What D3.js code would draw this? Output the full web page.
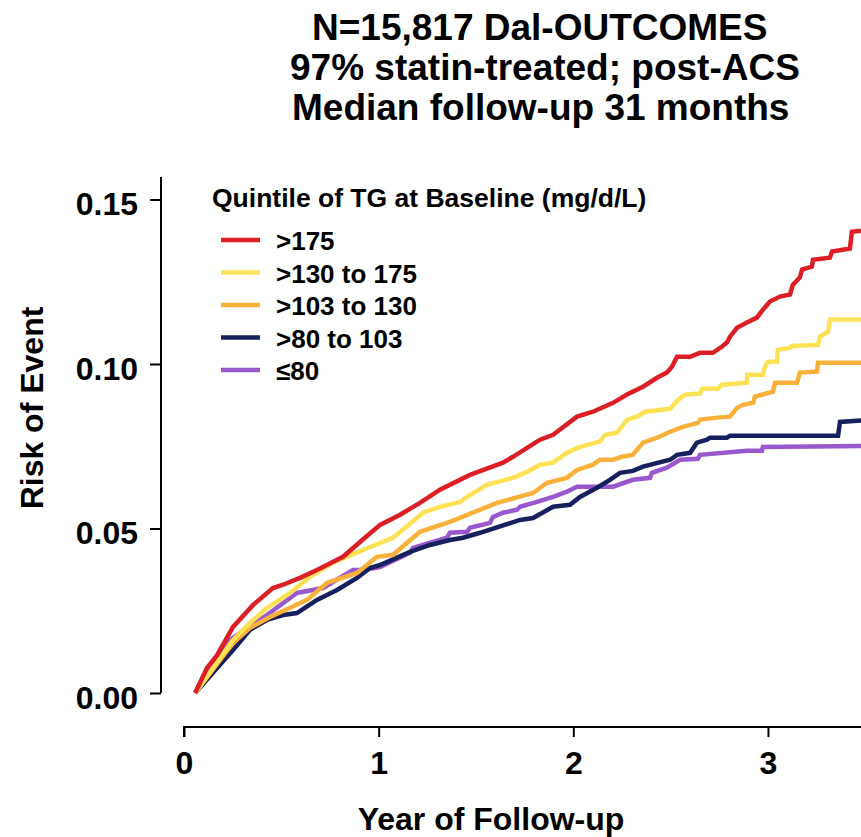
<!DOCTYPE html>
<html>
<head>
<meta charset="utf-8">
<script src="https://cdn.jsdelivr.net/npm/d3@7"></script>
<style>
  html, body { margin: 0; padding: 0; background: #fff; }
  svg { display: block; font-family: "Liberation Sans", Arial, Helvetica, sans-serif; font-weight: bold; }
</style>
</head>
<body>
<svg id="chart" width="861" height="837"></svg>
<script>
// Title lines
const titleLines = ["N=15,817 Dal-OUTCOMES", "97% statin-treated; post-ACS", "Median follow-up 31 months"];

// Legend
const legendTitle = "Quintile of TG at Baseline (mg/d/L)";
const groupLabels = [">175", ">130 to 175", ">103 to 130", ">80 to 103", "\u226480"];
const groupColors = ["#dc1f26", "#fde255", "#f9b13b", "#16205e", "#9a58cf"];

// Axis ticks
const xTicks = [0, 1, 2, 3];
const yTicks = [0, 0.05, 0.10, 0.15];

// Cumulative risk curves: [year, risk]
const riskOver175 = [
  [0.057, 0], [0.118, 0.0076], [0.170, 0.0115], [0.252, 0.0201], [0.354, 0.0267], [0.457, 0.0319], [0.509, 0.0329],
  [0.596, 0.035], [0.683, 0.0374], [0.817, 0.0414], [0.904, 0.0459], [1.007, 0.0511], [1.110, 0.0542],
  [1.212, 0.0578], [1.315, 0.0618], [1.469, 0.0663], [1.639, 0.070], [1.690, 0.0718], [1.829, 0.077],
  [1.896, 0.0785], [2.019, 0.084], [2.101, 0.0855], [2.204, 0.0882], [2.276, 0.0907], [2.358, 0.0931],
  [2.430, 0.0958], [2.481, 0.0974], [2.507, 0.0992], [2.533, 0.1022], [2.600, 0.1022], [2.651, 0.1034],
  [2.717, 0.1034], [2.764, 0.1053], [2.789, 0.1065], [2.805, 0.1083], [2.841, 0.111], [2.892, 0.1126],
  [2.943, 0.1141], [2.974, 0.1165], [3.010, 0.119], [3.062, 0.1205], [3.113, 0.1211], [3.128, 0.1241],
  [3.164, 0.1263], [3.175, 0.1287], [3.226, 0.1296], [3.231, 0.1317], [3.318, 0.1323], [3.329, 0.1342],
  [3.421, 0.1351], [3.431, 0.1402], [3.478, 0.1405]
];
const risk130to175 = [
  [0.057, 0], [0.252, 0.0161], [0.339, 0.0213], [0.426, 0.0258], [0.545, 0.0304], [0.647, 0.0353],
  [0.765, 0.0396], [0.920, 0.0435], [1.007, 0.0456], [1.074, 0.0472], [1.228, 0.0548], [1.315, 0.0566],
  [1.418, 0.0581], [1.454, 0.0596], [1.556, 0.0633], [1.690, 0.0654], [1.762, 0.0672], [1.829, 0.0694],
  [1.896, 0.070], [1.967, 0.073], [2.034, 0.0748], [2.137, 0.0764], [2.163, 0.0785], [2.224, 0.0791],
  [2.276, 0.0831], [2.327, 0.084], [2.368, 0.0855], [2.497, 0.0864], [2.538, 0.0891], [2.574, 0.0907],
  [2.651, 0.091], [2.661, 0.0925], [2.743, 0.0925], [2.764, 0.0937], [2.892, 0.0943], [2.894, 0.0967],
  [2.974, 0.0967], [2.985, 0.0992], [3.000, 0.1007], [3.046, 0.1007], [3.051, 0.1043], [3.113, 0.1049],
  [3.123, 0.1055], [3.257, 0.1058], [3.267, 0.1083], [3.308, 0.1098], [3.318, 0.1135], [3.478, 0.1135]
];
const risk103to130 = [
  [0.057, 0], [0.252, 0.0152], [0.339, 0.0198], [0.442, 0.0231], [0.545, 0.0259], [0.632, 0.0283],
  [0.735, 0.0335], [0.889, 0.0365], [0.991, 0.0414], [1.074, 0.042], [1.212, 0.049], [1.366, 0.052],
  [1.608, 0.0578], [1.793, 0.0608], [1.865, 0.0639], [1.967, 0.0654], [2.019, 0.0678], [2.101, 0.0694],
  [2.137, 0.0709], [2.204, 0.0709], [2.250, 0.0718], [2.306, 0.0724], [2.358, 0.0761], [2.430, 0.0776],
  [2.497, 0.0794], [2.563, 0.0809], [2.640, 0.0821], [2.651, 0.0831], [2.738, 0.0837], [2.805, 0.084],
  [2.841, 0.0867], [2.872, 0.0876], [2.923, 0.0882], [2.933, 0.0901], [3.026, 0.0916], [3.036, 0.0943],
  [3.149, 0.0943], [3.164, 0.0974], [3.252, 0.0977], [3.257, 0.1004], [3.478, 0.1004]
];
const risk80to103 = [
  [0.057, 0], [0.252, 0.0131], [0.339, 0.0192], [0.426, 0.0222], [0.509, 0.0237], [0.580, 0.0243],
  [0.683, 0.0283], [0.786, 0.0313], [0.889, 0.035], [0.955, 0.038], [1.007, 0.0389], [1.161, 0.0429],
  [1.264, 0.045], [1.366, 0.0465], [1.433, 0.0472], [1.521, 0.0487], [1.726, 0.0526], [1.793, 0.0532],
  [1.896, 0.0566], [1.983, 0.0572], [2.034, 0.0596], [2.122, 0.0624], [2.188, 0.0648], [2.240, 0.0669],
  [2.306, 0.0675], [2.358, 0.0688], [2.497, 0.0709], [2.533, 0.0724], [2.600, 0.073], [2.635, 0.0761],
  [2.687, 0.077], [2.702, 0.0776], [2.789, 0.0776], [2.805, 0.0782], [3.360, 0.0782], [3.370, 0.0824],
  [3.478, 0.0828]
];
const riskUpTo80 = [
  [0.057, 0], [0.236, 0.0161], [0.288, 0.0183], [0.339, 0.0201], [0.426, 0.0237], [0.580, 0.0304],
  [0.714, 0.0319], [0.868, 0.0374], [0.920, 0.0374], [1.007, 0.0383], [1.161, 0.0426], [1.176, 0.0441],
  [1.351, 0.0472], [1.366, 0.0487], [1.454, 0.049], [1.469, 0.0502], [1.572, 0.0517], [1.587, 0.0535],
  [1.639, 0.0548], [1.711, 0.0557], [1.726, 0.0566], [1.813, 0.0581], [1.896, 0.0596], [1.967, 0.0612],
  [2.019, 0.0627], [2.204, 0.0627], [2.306, 0.0648], [2.394, 0.0654], [2.404, 0.0669], [2.481, 0.0685],
  [2.548, 0.0709], [2.640, 0.0712], [2.651, 0.0724], [2.892, 0.0736], [2.969, 0.0736], [2.974, 0.0748],
  [3.478, 0.0751]
];

// Drawing order: lowest group first so the top quintile sits on top
const seriesList = [
  { data: riskUpTo80, color: groupColors[4] },
  { data: risk80to103, color: groupColors[3] },
  { data: risk103to130, color: groupColors[2] },
  { data: risk130to175, color: groupColors[1] },
  { data: riskOver175, color: groupColors[0] }
];

const svg = d3.select("#chart");

const x = d3.scaleLinear().domain([0, 3.5]).range([184, 865.3]);
const y = d3.scaleLinear().domain([0, 0.15]).range([693, 199.5]);

// Title
svg.append("g").selectAll("text")
  .data(titleLines)
  .join("text")
  .attr("x", (d, i) => [312, 290, 292][i])
  .attr("y", (d, i) => 40 + i * 40)
  .attr("text-anchor", "start")
  .attr("font-size", 37)
  .attr("fill", "#000")
  .text(d => d);

// Y axis
const yAxis = d3.axisLeft(y)
  .tickValues(yTicks)
  .tickFormat(d3.format(".2f"))
  .tickSize(11)
  .tickPadding(12)
  .tickSizeOuter(0);
const yg = svg.append("g")
  .attr("transform", "translate(161,0)")
  .call(yAxis);
yg.select(".domain").remove();
yg.append("line")
  .attr("x1", 0).attr("x2", 0)
  .attr("y1", 177).attr("y2", y(0))
  .attr("stroke", "#000").attr("stroke-width", 2);
yg.selectAll(".tick line").attr("stroke", "#000").attr("stroke-width", 2);
yg.selectAll(".tick text")
  .attr("font-size", 32).attr("font-family", "Liberation Sans, Arial, sans-serif")
  .attr("font-weight", "bold").attr("fill", "#000").attr("dy", "0.47em");

// X axis
const xAxis = d3.axisBottom(x)
  .tickValues(xTicks)
  .tickFormat(d3.format("d"))
  .tickSize(10)
  .tickPadding(14)
  .tickSizeOuter(0);
const xg = svg.append("g")
  .attr("transform", "translate(0,727)")
  .call(xAxis);
xg.select(".domain").attr("stroke", "#000").attr("stroke-width", 2)
  .attr("d", `M${x(0)},10V0H${x(3.6)}`);
xg.selectAll(".tick line").attr("stroke", "#000").attr("stroke-width", 2);
xg.selectAll(".tick text")
  .attr("font-size", 32).attr("font-family", "Liberation Sans, Arial, sans-serif")
  .attr("font-weight", "bold").attr("fill", "#000").attr("dy", "0.71em");

// Axis titles
svg.append("text")
  .attr("x", 491).attr("y", 830)
  .attr("text-anchor", "middle")
  .attr("font-size", 32)
  .text("Year of Follow-up");

svg.append("text")
  .attr("transform", "translate(43,408) rotate(-90)")
  .attr("text-anchor", "middle")
  .attr("font-size", 32)
  .text("Risk of Event");

// Curves
const line = d3.line().x(d => x(d[0])).y(d => y(d[1]));
svg.append("g").selectAll("path")
  .data(seriesList)
  .join("path")
  .attr("d", d => line(d.data))
  .attr("fill", "none")
  .attr("stroke", d => d.color)
  .attr("stroke-width", 4.5)
  .attr("stroke-linejoin", "miter")
  .attr("stroke-miterlimit", 2);

// Legend
const legend = svg.append("g");
legend.append("text")
  .attr("x", 212).attr("y", 207)
  .attr("font-size", 26.5)
  .text(legendTitle);
const items = legend.selectAll("g.item")
  .data(groupLabels)
  .join("g")
  .attr("class", "item")
  .attr("transform", (d, i) => `translate(0,${240 + i * 32.5})`);
items.append("line")
  .attr("x1", 221).attr("x2", 260)
  .attr("y1", 0).attr("y2", 0)
  .attr("stroke", (d, i) => groupColors[i])
  .attr("stroke-width", 4.5);
items.append("text")
  .attr("x", 276).attr("y", 10)
  .attr("font-size", 26)
  .text(d => d);
</script>
</body>
</html>
